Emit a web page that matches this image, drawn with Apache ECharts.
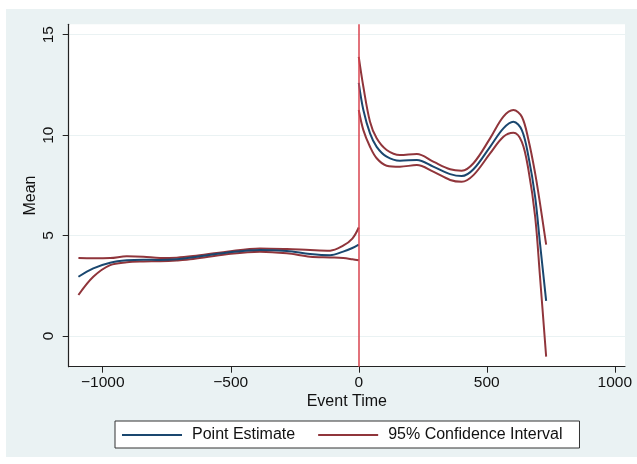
<!DOCTYPE html>
<html>
<head>
<meta charset="utf-8">
<script src="https://cdn.jsdelivr.net/npm/echarts@6/dist/echarts.min.js"></script>
<style>html,body{margin:0;padding:0;background:#fff}#c{width:637px;height:464px}</style>
</head>
<body>
<div id="c"></div>
<script>
// ---- data ----
var xTicks = [-1000, -500, 0, 500, 1000];
var yTicks = [0, 5, 10, 15];

var preX      = [-1095, -1037, -971, -906, -841, -776, -711, -647, -516, -386, -281, -190, -112, -61, -25, 0];
var prePoint  = [2.95, 3.37, 3.65, 3.77, 3.80, 3.78, 3.82, 3.92, 4.15, 4.28, 4.23, 4.08, 4.02, 4.20, 4.38, 4.55];
var preUpper  = [3.88, 3.87, 3.88, 3.97, 3.95, 3.88, 3.90, 3.98, 4.20, 4.36, 4.33, 4.28, 4.25, 4.50, 4.85, 5.40];
var preLower  = [2.04, 2.95, 3.53, 3.67, 3.71, 3.72, 3.76, 3.83, 4.07, 4.20, 4.12, 3.95, 3.91, 3.88, 3.82, 3.77];

var postX     = [0, 18, 44, 70, 109, 161, 227, 291, 357, 402, 448, 513, 565, 604, 637, 663, 689, 708, 732];
var postPoint = [12.60, 11.25, 10.09, 9.42, 8.93, 8.73, 8.76, 8.43, 8.06, 7.96, 8.30, 9.42, 10.34, 10.67, 10.25, 8.93, 6.93, 4.61, 1.75];
var postUpper = [13.90, 12.41, 10.67, 9.84, 9.26, 9.01, 9.06, 8.68, 8.30, 8.23, 8.60, 9.84, 10.92, 11.25, 10.92, 9.76, 8.10, 6.60, 4.55];
var postLower = [11.25, 10.25, 9.42, 8.85, 8.48, 8.43, 8.51, 8.18, 7.77, 7.68, 8.01, 9.09, 9.92, 10.12, 9.67, 8.26, 5.94, 2.95, -1.03];

var eventLine = 0;

function pairs(xs, ys) { return xs.map(function (x, i) { return [x, ys[i]]; }); }

var BLUE = '#1a476f', MAROON = '#90353b', RED = '#d9434f';
var FONT = 'Liberation Sans';
var fmt = function (v) { return String(v).replace('-', '\u2212'); };

function curve(name, xs, ys, color) {
  return {
    name: name, type: 'line', data: pairs(xs, ys), symbol: 'none', smooth: 0.35,
    lineStyle: { color: color, width: 2 }, itemStyle: { color: color }, z: 3, silent: true
  };
}

var series = [
  curve('95% Confidence Interval', preX, preUpper, MAROON),
  curve('95% Confidence Interval', preX, preLower, MAROON),
  curve('Point Estimate', preX, prePoint, BLUE),
  curve('95% Confidence Interval', postX, postUpper, MAROON),
  curve('95% Confidence Interval', postX, postLower, MAROON),
  curve('Point Estimate', postX, postPoint, BLUE)
];
series[2].markLine = {
  silent: true, symbol: 'none', label: { show: false },
  lineStyle: { color: RED, width: 1.5, type: 'solid' },
  data: [{ xAxis: eventLine }]
};

var chart = echarts.init(document.getElementById('c'), null, { renderer: 'canvas' });
chart.setOption({
  backgroundColor: '#ffffff',
  animation: false,
  textStyle: { fontFamily: FONT },
  graphic: [{
    type: 'rect', left: 6, top: 9, z: -10, silent: true,
    shape: { width: 631, height: 448 },
    style: { fill: '#eaf2f3' }
  }],
  grid: {
    left: 68.7, right: 12, top: 24.3, bottom: 97.3,
    show: true, backgroundColor: '#ffffff', borderWidth: 0
  },
  xAxis: {
    type: 'value', min: -1133, max: 1040,
    name: 'Event Time', nameLocation: 'middle', nameGap: 27, nameMoveOverlap: false,
    nameTextStyle: { fontFamily: FONT, fontSize: 16, color: '#111' },
    axisLine: { show: true, onZero: false, lineStyle: { color: '#222', width: 1.2 } },
    axisTick: { show: true, customValues: xTicks, length: 6, lineStyle: { color: '#222' } },
    axisLabel: { customValues: xTicks, formatter: fmt, fontFamily: FONT, fontSize: 15.5, color: '#111', margin: 8 },
    splitLine: { show: false }
  },
  yAxis: {
    type: 'value', min: -1.53, max: 15.52,
    name: 'Mean', nameLocation: 'middle', nameGap: 30, nameRotate: 90, nameMoveOverlap: false,
    nameTextStyle: { fontFamily: FONT, fontSize: 16, color: '#111' },
    axisLine: { show: true, onZero: false, lineStyle: { color: '#222', width: 1.2 } },
    axisTick: { show: true, customValues: yTicks, length: 6, lineStyle: { color: '#222' } },
    axisLabel: { customValues: yTicks, rotate: 90, fontFamily: FONT, fontSize: 15.5, color: '#111', margin: 12 },
    splitLine: { show: true, lineStyle: { color: '#eaf2f3', width: 1.2 } }
  },
  legend: {
    left: 115, top: 421,
    padding: [6, 17, 5, 7],
    itemGap: 23, itemWidth: 60, itemHeight: 2,
    icon: 'rect',
    borderColor: '#333', borderWidth: 1, borderRadius: 0,
    backgroundColor: '#ffffff',
    textStyle: { fontFamily: FONT, fontSize: 16, color: '#111', padding: [0, 0, 0, 5] },
    data: ['Point Estimate', '95% Confidence Interval'],
    selectedMode: false
  },
  series: series
});
</script>
</body>
</html>
